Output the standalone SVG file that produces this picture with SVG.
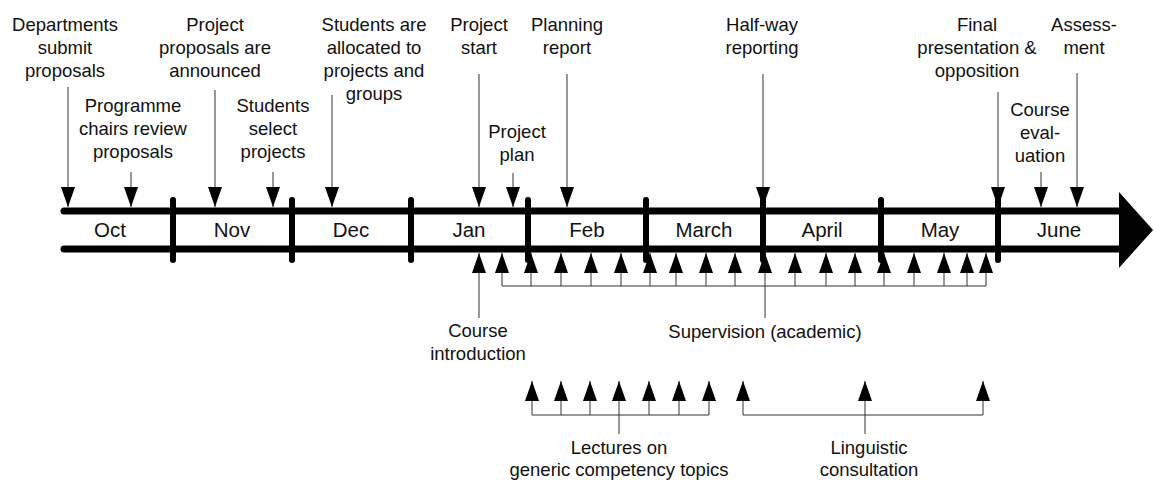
<svg xmlns="http://www.w3.org/2000/svg" width="1154" height="480" viewBox="0 0 1154 480">
<style>
text{font-family:"Liberation Sans",Arial,sans-serif;font-size:18.5px;fill:#111;text-anchor:middle}
.m{font-size:20.5px}
.c{stroke:#333;stroke-width:1;fill:none}
.ca{stroke:#333;stroke-width:1;fill:none;marker-end:url(#ah)}
.bar{stroke:#000;stroke-width:7;stroke-linecap:round;fill:none}
.div{stroke:#000;stroke-width:6;stroke-linecap:round}
</style>
<defs>
<marker id="ah" markerUnits="userSpaceOnUse" viewBox="0 0 20 14" refX="20" refY="7" markerWidth="20" markerHeight="14" orient="auto">
<path d="M0,0 L20,7 L0,14 z" fill="#000"/>
</marker>
</defs>
<rect width="1154" height="480" fill="#fff"/>
<g id="timeline">
<line class="bar" x1="64" y1="211" x2="1121" y2="211"/>
<line class="bar" x1="64" y1="249" x2="1121" y2="249"/>
<polygon points="1119,192 1153,230 1119,268" fill="#000"/>
<line class="div" x1="173" y1="200" x2="173" y2="260"/>
<line class="div" x1="292" y1="200" x2="292" y2="260"/>
<line class="div" x1="411" y1="200" x2="411" y2="260"/>
<line class="div" x1="528" y1="200" x2="528" y2="260"/>
<line class="div" x1="646" y1="200" x2="646" y2="260"/>
<line class="div" x1="763" y1="200" x2="763" y2="260"/>
<line class="div" x1="881" y1="200" x2="881" y2="260"/>
<line class="div" x1="998" y1="200" x2="998" y2="260"/>
<text class="m" x="110" y="237">Oct</text>
<text class="m" x="232" y="237">Nov</text>
<text class="m" x="351" y="237">Dec</text>
<text class="m" x="469" y="237">Jan</text>
<text class="m" x="587" y="237">Feb</text>
<text class="m" x="704" y="237">March</text>
<text class="m" x="822" y="237">April</text>
<text class="m" x="940" y="237">May</text>
<text class="m" x="1059" y="237">June</text>
</g>
<g id="connectors">
<line class="ca" x1="68" y1="87" x2="68" y2="207"/>
<line class="ca" x1="131" y1="172" x2="131" y2="207"/>
<line class="ca" x1="215" y1="90" x2="215" y2="207"/>
<line class="ca" x1="273" y1="172" x2="273" y2="207"/>
<line class="ca" x1="332" y1="95" x2="332" y2="207"/>
<line class="ca" x1="479" y1="74" x2="479" y2="207"/>
<line class="ca" x1="513" y1="173" x2="513" y2="207"/>
<line class="ca" x1="567" y1="74" x2="567" y2="207"/>
<line class="ca" x1="763" y1="74" x2="763" y2="207"/>
<line class="ca" x1="998" y1="92" x2="998" y2="207"/>
<line class="ca" x1="1041" y1="172" x2="1041" y2="207"/>
<line class="ca" x1="1077" y1="73" x2="1077" y2="207"/>
<line class="ca" x1="479" y1="318" x2="479" y2="253"/>
<path class="c" d="M502,286 H986 M765,286 V318"/>
<line class="ca" x1="502" y1="286" x2="502" y2="253"/>
<line class="ca" x1="531" y1="286" x2="531" y2="253"/>
<line class="ca" x1="561" y1="286" x2="561" y2="253"/>
<line class="ca" x1="591" y1="286" x2="591" y2="253"/>
<line class="ca" x1="621" y1="286" x2="621" y2="253"/>
<line class="ca" x1="650" y1="286" x2="650" y2="253"/>
<line class="ca" x1="676" y1="286" x2="676" y2="253"/>
<line class="ca" x1="706" y1="286" x2="706" y2="253"/>
<line class="ca" x1="735" y1="286" x2="735" y2="253"/>
<line class="ca" x1="765" y1="286" x2="765" y2="253"/>
<line class="ca" x1="795" y1="286" x2="795" y2="253"/>
<line class="ca" x1="826" y1="286" x2="826" y2="253"/>
<line class="ca" x1="855" y1="286" x2="855" y2="253"/>
<line class="ca" x1="884" y1="286" x2="884" y2="253"/>
<line class="ca" x1="914" y1="286" x2="914" y2="253"/>
<line class="ca" x1="944" y1="286" x2="944" y2="253"/>
<line class="ca" x1="967" y1="286" x2="967" y2="253"/>
<line class="ca" x1="986" y1="286" x2="986" y2="253"/>
<path class="c" d="M532,415 H709 M619,415 V434"/>
<line class="ca" x1="532" y1="415" x2="532" y2="381"/>
<line class="ca" x1="561" y1="415" x2="561" y2="381"/>
<line class="ca" x1="590" y1="415" x2="590" y2="381"/>
<line class="ca" x1="619" y1="415" x2="619" y2="381"/>
<line class="ca" x1="649" y1="415" x2="649" y2="381"/>
<line class="ca" x1="679" y1="415" x2="679" y2="381"/>
<line class="ca" x1="709" y1="415" x2="709" y2="381"/>
<path class="c" d="M743,415 H983 M865,415 V434"/>
<line class="ca" x1="743" y1="415" x2="743" y2="381"/>
<line class="ca" x1="865" y1="415" x2="865" y2="381"/>
<line class="ca" x1="983" y1="415" x2="983" y2="381"/>
</g>
<g id="n-departments"><text x="65" y="31">Departments</text><text x="65" y="54">submit</text><text x="65" y="77">proposals</text></g>
<g id="n-chairs"><text x="133" y="112">Programme</text><text x="133" y="135">chairs review</text><text x="133" y="158">proposals</text></g>
<g id="n-announced"><text x="215" y="31">Project</text><text x="215" y="54">proposals are</text><text x="215" y="77">announced</text></g>
<g id="n-select"><text x="273" y="112">Students</text><text x="273" y="135">select</text><text x="273" y="158">projects</text></g>
<g id="n-allocated"><text x="374" y="31">Students are</text><text x="374" y="54">allocated to</text><text x="374" y="77">projects and</text><text x="374" y="100">groups</text></g>
<g id="n-start"><text x="479" y="31">Project</text><text x="479" y="54">start</text></g>
<g id="n-plan"><text x="517" y="138">Project</text><text x="517" y="161">plan</text></g>
<g id="n-planning"><text x="567" y="31">Planning</text><text x="567" y="54">report</text></g>
<g id="n-halfway"><text x="762" y="31">Half-way</text><text x="762" y="54">reporting</text></g>
<g id="n-final"><text x="977" y="31">Final</text><text x="977" y="54">presentation &amp;</text><text x="977" y="77">opposition</text></g>
<g id="n-eval"><text x="1040" y="116">Course</text><text x="1040" y="139">eval-</text><text x="1040" y="162">uation</text></g>
<g id="n-assessment"><text x="1084" y="31">Assess-</text><text x="1084" y="54">ment</text></g>
<g id="n-intro"><text x="478" y="337">Course</text><text x="478" y="360">introduction</text></g>
<g id="n-supervision"><text x="765" y="338">Supervision (academic)</text></g>
<g id="n-lectures"><text x="619" y="454">Lectures on</text><text x="619" y="476">generic competency topics</text></g>
<g id="n-linguistic"><text x="869" y="454">Linguistic</text><text x="869" y="476">consultation</text></g>
</svg>
